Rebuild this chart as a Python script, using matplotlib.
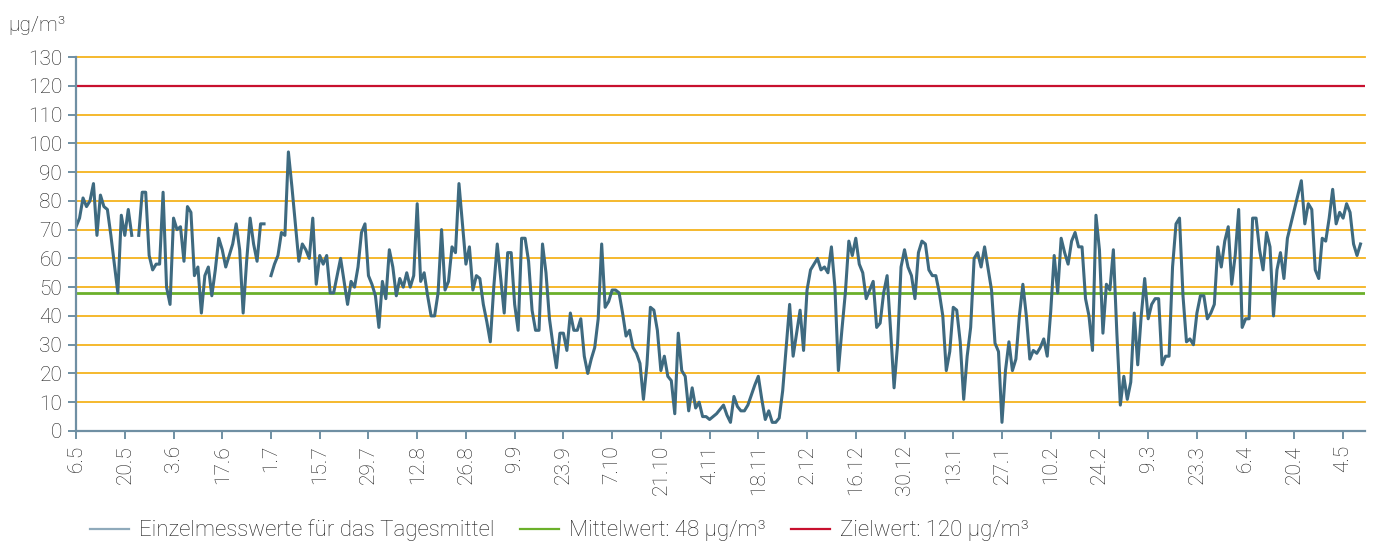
import matplotlib.pyplot as plt
from matplotlib.lines import Line2D
import numpy as np
import pandas as pd

plt.rcParams['font.family'] = ['Roboto', 'DejaVu Sans']

# daily means (µg/m³) from 6.5.2023, NaN = no measurement
start = '2023-05-06'
values = [
    71, 74, 81, 78, 80, 86, 68, 82, 78, 77, 68, 58, 48, 75, 68, 77, 68, np.nan, 68, 83,
    83, 61, 56, 58, 58, 83, 50, 44, 74, 70, 71, 59, 78, 76, 54, 57, 41, 54, 57, 47,
    56, 67, 63, 57, 61, 65, 72, 63, 41, 59, 74, 65, 59, 72, 72, np.nan, 54, 58, 61, 69,
    68, 97, 85, 72, 59, 65, 63, 60, 74, 51, 61, 58, 61, 48, 48, 54, 60, 52, 44, 52,
    50, 57, 69, 72, 54, 51, 47, 36, 52, 46, 63, 57, 47, 53, 50, 55, 50, 54, 79, 52,
    55, 47, 40, 40, 48, 70, 49, 52, 64, 62, 86, 72, 58, 64, 49, 54, 53, 44, 38, 31,
    50, 65, 53, 41, 62, 62, 44, 35, 67, 67, 59, 42, 35, 35, 65, 55, 39, 30, 22, 34,
    34, 28, 41, 35, 35, 39, 26, 20, 25, 29, 39, 65, 43, 45, 49, 49, 48, 41, 33, 35,
    29, 27, 23.5, 11, 23, 43, 42, 35, 21, 26, 19, 17.5, 6, 34, 21, 19, 7, 15, 8, 10,
    5, 5, 4, 5, 6, 7.5, 9, 5.5, 3, 12, 8.5, 7, 7, 9, 12.5, 16, 19, 11, 4, 7,
    3, 3, 4.5, 14, 29, 44, 26, 34, 42, 28, 49, 56, 58, 60, 56, 57, 55, 64, 50, 21,
    35, 48, 66, 61, 67, 58, 55, 46, 49, 52, 36, 37.5, 48, 54, 35, 15, 30, 57, 63, 57,
    54, 46, 62, 66, 65, 56, 54, 54, 48, 40, 21, 27.6, 43, 42, 31, 11, 26, 36, 60, 62,
    57, 64, 56.5, 49, 30.5, 27.6, 3, 21, 31, 21, 25, 40, 51, 40, 25, 28, 27, 29, 32, 26,
    41.5, 61, 48, 67, 62, 58, 66, 69, 64, 64, 46, 40, 28, 75, 63, 34, 51, 49, 63, 34,
    9, 19, 11, 17, 41, 23, 40, 53, 39, 44, 46, 46, 23, 26, 26, 57, 72, 74, 47, 31,
    32, 30, 41, 47, 47, 39, 41, 44, 64, 57, 66, 71, 51, 61, 77, 36, 39, 39, 74, 74,
    63, 56, 69, 64, 40, 56, 62, 53, 67, 72, 77, 82, 87, 72, 79, 77, 56, 53, 67, 66,
    74, 84, 72, 76, 74, 79, 76, 65, 61, 65,
]
mean_value = 48
target_value = 120
tick_step_days = 14

dates = pd.date_range(start, periods=len(values), freq='D')
tick_dates = pd.date_range(start, dates[-1], freq=f'{tick_step_days}D')
tick_labels = [f'{d.day}.{d.month}' for d in tick_dates]

c_series = '#3E6A80'
c_series_leg = '#8FAABB'
c_mean = '#6BB02A'
c_target = '#C8102E'
c_grid = '#F5B31E'
c_axis = '#6F8FA3'
c_text = '#1E1E1E'
fs = 15

fig = plt.figure(figsize=(13.73, 5.45), dpi=100)
ax = fig.add_axes([0.0554, 0.2092, 0.9388, 0.6862])

for yv in range(0, 131, 10):
    if yv in (0, target_value):
        continue
    ax.axhline(yv, color=c_grid, lw=1.3, zorder=1, clip_on=False)
ax.axhline(target_value, color=c_target, lw=1.6, zorder=2)
ax.axhline(mean_value, color=c_mean, lw=2.0, zorder=3)
ax.plot(dates, values, color=c_series, lw=2.2, zorder=4)

ax.set_ylim(0, 130)
ax.set_yticks(range(0, 131, 10))
ax.set_xlim(dates[0], dates[0] + pd.Timedelta(days=370.3))
ax.set_xticks(tick_dates)
ax.set_xticklabels(tick_labels, rotation=90)

for side in ('top', 'right'):
    ax.spines[side].set_visible(False)
for side in ('left', 'bottom'):
    ax.spines[side].set_color(c_axis)
    ax.spines[side].set_linewidth(1.6)
    ax.spines[side].set_zorder(5)
ax.tick_params(axis='both', colors=c_axis, width=1.4, length=6, labelsize=fs,
               labelcolor=c_text)
ax.tick_params(axis='x', pad=4)
ax.tick_params(axis='y', pad=4)
for lbl in ax.get_xticklabels() + ax.get_yticklabels():
    lbl.set_fontweight('light')

fig.text(0.006, 0.943, 'µg/m³', fontsize=fs, color=c_text, fontweight='light')

handles = [
    Line2D([], [], color=c_series_leg, lw=1.6),
    Line2D([], [], color=c_mean, lw=1.6),
    Line2D([], [], color=c_target, lw=1.6),
]
names = ['Einzelmesswerte für das Tagesmittel', 'Mittelwert: 48 µg/m³',
         'Zielwert: 120 µg/m³']
leg = fig.legend(handles, names, loc='lower center', bbox_to_anchor=(0.4075, -0.03),
                 ncol=3, frameon=False, fontsize=16, handlelength=1.75,
                 columnspacing=1.15, handletextpad=0.45)
for t in leg.get_texts():
    t.set_color(c_text)
    t.set_fontweight('light')

fig.savefig('out.png', dpi=100)
